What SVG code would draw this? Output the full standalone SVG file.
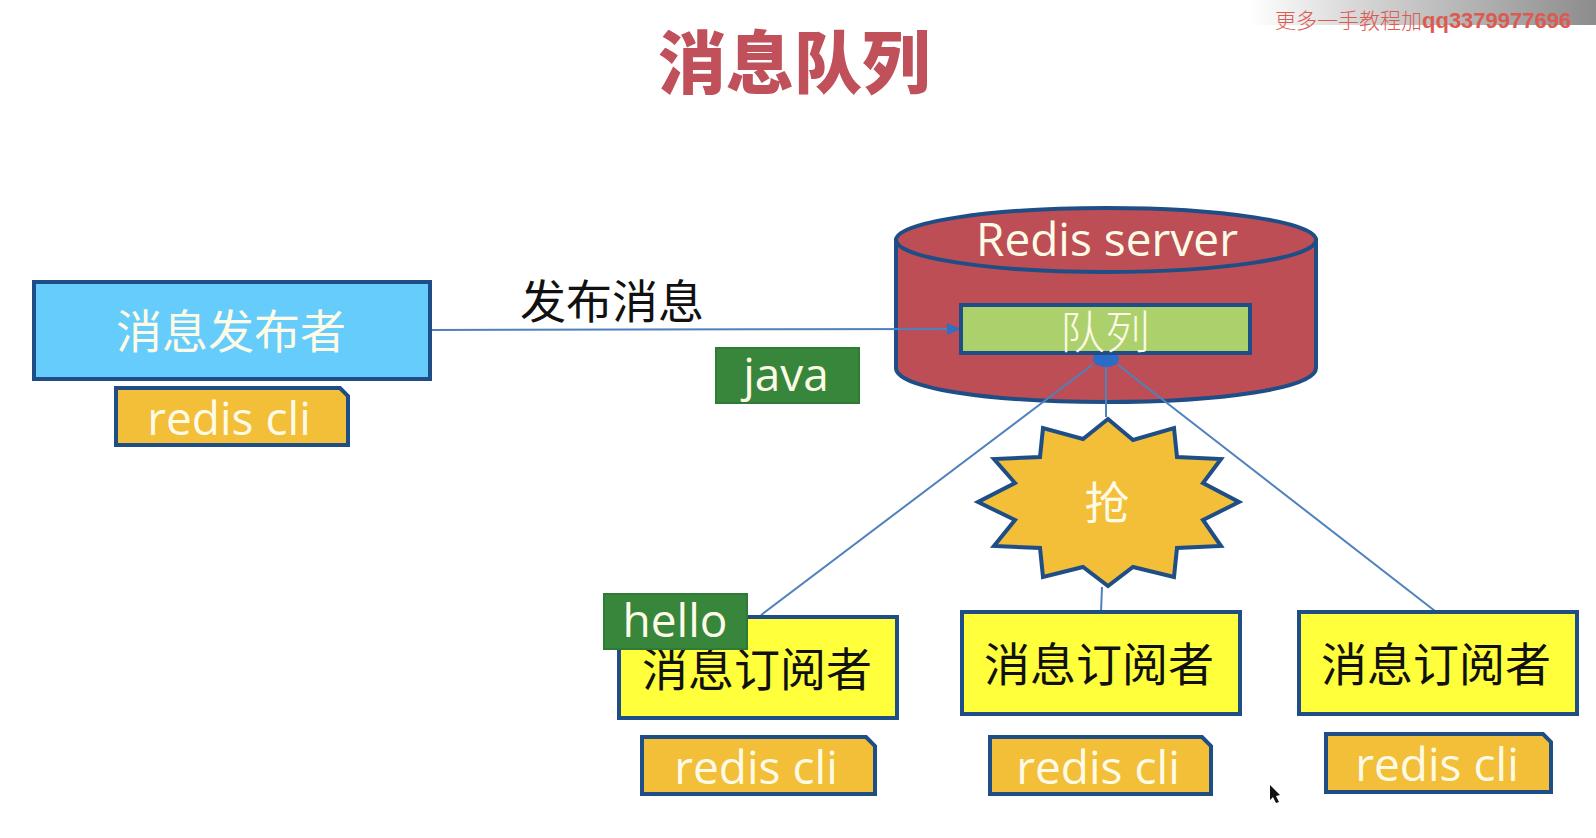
<svg xmlns="http://www.w3.org/2000/svg" width="1596" height="838" viewBox="0 0 1596 838">
<defs>
<linearGradient id="wm" x1="0" x2="1" y1="0" y2="0"><stop offset="0" stop-color="#ffffff"/><stop offset="0.3" stop-color="#d8d8d8"/><stop offset="1" stop-color="#8c8c8c"/></linearGradient>
<marker id="arr" markerUnits="userSpaceOnUse" markerWidth="16" markerHeight="16" refX="14" refY="8" orient="auto"><path d="M1 2 L15 8 L1 14 Z" fill="#2f6fc4"/></marker>
</defs>
<style>
.t{font-family:"Open Sans","Noto Sans CJK SC",sans-serif;text-anchor:middle}
.w{fill:#fdfbe6}
.box{stroke:#1f4e87;stroke-width:4}
.cli{fill:#f3be38;stroke:#1f4e87;stroke-width:4}
.sub{fill:#ffff3b;stroke:#1f4e87;stroke-width:4}
.grn{fill:#38863c;stroke:#2f7a36;stroke-width:2}
.ln{fill:none;stroke:#4f81bd;stroke-width:2}
.cn{font-family:"Noto Sans CJK SC","Open Sans",sans-serif;text-anchor:middle}
</style>
<rect width="1596" height="838" fill="#ffffff"/>
<g id="watermark">
<rect x="1250" y="0" width="346" height="25" fill="url(#wm)"/>
<text x="1275" y="28" font-size="21" font-weight="300" fill="#dc5a50" font-family="'Liberation Serif','Noto Sans CJK SC',serif">更多一手教程加<tspan font-family="'Liberation Sans',sans-serif" font-weight="700" font-size="22">qq3379977696</tspan></text>
</g>
<g id="title"><text class="cn" x="794" y="88" font-size="68" font-weight="900" fill="#c0505a">消息队列</text></g>
<g id="server">
<path d="M896 240 V368 C896 388 988 402 1105 402 C1222 402 1316 388 1316 368 V240 Z" fill="#bd4e55" stroke="#1f4e87" stroke-width="4"/>
<ellipse cx="1106" cy="240" rx="210" ry="32" fill="#bd4e55" stroke="#1f4e87" stroke-width="4"/>
<text class="t w" x="1107" y="256" font-size="46">Redis server</text>
</g>
<g id="connectors">
<line class="ln" x1="430" y1="330" x2="960" y2="329" marker-end="url(#arr)"/>
<line class="ln" x1="1092" y1="365" x2="761" y2="615"/>
<line class="ln" x1="1106" y1="362" x2="1106" y2="417"/>
<line class="ln" x1="1118" y1="365" x2="1435" y2="611"/>
<line class="ln" x1="1102" y1="587" x2="1101" y2="612"/>
</g>
<g id="queue">
<ellipse cx="1106" cy="359" rx="13" ry="8" fill="#2a6cc8"/>
<rect x="961" y="305" width="289" height="48" fill="#acd16c" stroke="#1f4e87" stroke-width="4"/>
<text class="cn w" x="1105" y="349" font-size="45" font-weight="300">队列</text>
</g>
<g id="publisher">
<rect class="box" x="34" y="282" width="396" height="97" fill="#66ccfb"/>
<text class="cn w" x="231" y="348" font-size="46" font-weight="400">消息发布者</text>
</g>
<g id="publisher-cli">
<path class="cli" d="M116 388 H340 L348 396 V445 H116 Z"/>
<text class="t w" x="229" y="435" font-size="46">redis cli</text>
</g>
<g id="publish-label"><text class="cn" x="612" y="318" font-size="46" font-weight="400" fill="#111">发布消息</text></g>
<g id="java">
<rect class="grn" x="716" y="348" width="143" height="55"/>
<text class="t w" x="786" y="391" font-size="46">java</text>
</g>
<g id="grab">
<polygon points="1108,419 1083,439 1043,428 1040,457 994,459 1015,483 978,502 1015,520 994,546 1040,548 1043,577 1083,567 1108,586 1133,567 1174,577 1177,548 1221,546 1203,520 1239,502 1203,483 1221,459 1177,457 1174,428 1133,440" fill="#f3be38" stroke="#1f4e87" stroke-width="4" stroke-linejoin="miter"/>
<text class="cn w" x="1107" y="520" font-size="45" font-weight="400">抢</text>
</g>
<g id="subscriber-1">
<rect class="sub" x="619" y="617" width="278" height="101"/>
<text class="cn" x="757" y="686" font-size="46" font-weight="400" fill="#111">消息订阅者</text>
</g>
<g id="hello">
<rect class="grn" x="604" y="594" width="143" height="55"/>
<text class="t w" x="675" y="637" font-size="46">hello</text>
</g>
<g id="subscriber-1-cli">
<path class="cli" d="M642 737 H866 L875 746 V794 H642 Z"/>
<text class="t w" x="756" y="784" font-size="46">redis cli</text>
</g>
<g id="subscriber-2">
<rect class="sub" x="962" y="612" width="278" height="102"/>
<text class="cn" x="1099" y="681" font-size="46" font-weight="400" fill="#111">消息订阅者</text>
</g>
<g id="subscriber-2-cli">
<path class="cli" d="M990 737 H1202 L1211 746 V794 H990 Z"/>
<text class="t w" x="1098" y="784" font-size="46">redis cli</text>
</g>
<g id="subscriber-3">
<rect class="sub" x="1299" y="612" width="278" height="102"/>
<text class="cn" x="1436" y="681" font-size="46" font-weight="400" fill="#111">消息订阅者</text>
</g>
<g id="subscriber-3-cli">
<path class="cli" d="M1326 734 H1543 L1551 742 V792 H1326 Z"/>
<text class="t w" x="1437" y="781" font-size="46">redis cli</text>
</g>
<g id="cursor"><polygon points="1270,785 1270,800 1273,797 1276,803 1279,802 1276,796 1280,795" fill="#111"/></g>
</svg>
